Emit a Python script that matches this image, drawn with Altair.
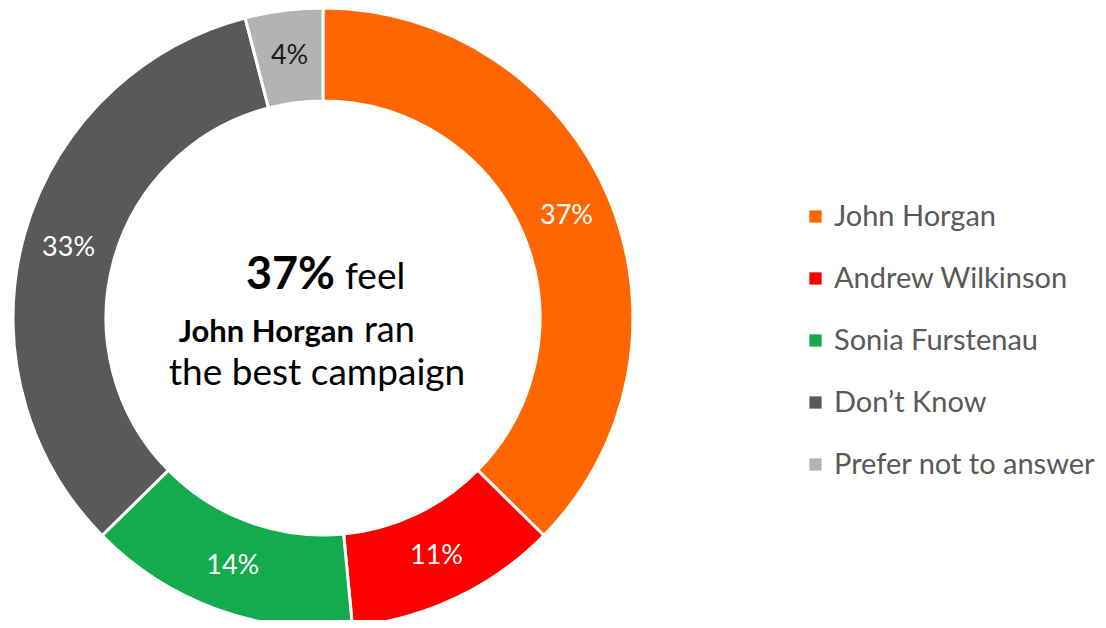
import altair as alt
import pandas as pd

categories = ["John Horgan", "Andrew Wilkinson", "Sonia Furstenau", "Don\u2019t Know", "Prefer not to answer"]
values = [37, 11, 14, 33, 4]
labels = ["37%", "11%", "14%", "33%", "4%"]
colors = ["#FF6600", "#FF0000", "#13AB4B", "#595959", "#B3B3B3"]
label_colors = ["white", "white", "white", "white", "#1a1a1a"]

df = pd.DataFrame({
    "cat": categories,
    "val": values,
    "lab": labels,
    "ord": list(range(len(categories))),
    "lc": label_colors,
})

FONT = "Lato"
CX, CY = 315, 310

base = alt.Chart(df).encode(
    theta=alt.Theta("val:Q", stack=True),
    order=alt.Order("ord:Q"),
)

arcs = base.mark_arc(
    outerRadius=310, innerRadius=217, stroke="white", strokeWidth=3
).encode(
    x=alt.value(CX), y=alt.value(CY),
    color=alt.Color(
        "cat:N",
        scale=alt.Scale(domain=categories, range=colors),
        sort=categories,
        legend=alt.Legend(
            title=None, orient="none", legendX=793, legendY=194,
            symbolType="square", symbolSize=150, symbolStrokeWidth=0,
            labelFontSize=29, labelFont=FONT, labelColor="#595959",
            rowPadding=32, labelOffset=4, labelLimit=400,
        ),
    ),
)

text = base.mark_text(radius=264, fontSize=27, font=FONT).encode(
    x=alt.value(CX), y=alt.value(CY),
    text="lab:N",
    color=alt.Color("lc:N", scale=None),
)

def ctext(t, x, y, size, weight, align):
    return alt.Chart(pd.DataFrame({"t": [t]})).mark_text(
        fontSize=size, fontWeight=weight, font=FONT, align=align,
        baseline="alphabetic", color="black",
    ).encode(x=alt.value(x), y=alt.value(y), text="t:N")

c1 = ctext("37%", 327, 281, 45, "bold", "right")
c2 = ctext("feel", 337, 281, 37, "normal", "left")
c3 = ctext("John Horgan", 346, 334, 31, "bold", "right")
c4 = ctext("ran", 356, 334, 36, "normal", "left")
c5 = ctext("the best campaign", 309, 377, 37, "normal", "center")

chart = alt.layer(arcs, text, c1, c2, c3, c4, c5).properties(
    width=1090, height=612, padding=0, autosize="none"
).configure_view(stroke=None)

chart.save("out.html", embed_options={"renderer": "svg", "actions": False})
